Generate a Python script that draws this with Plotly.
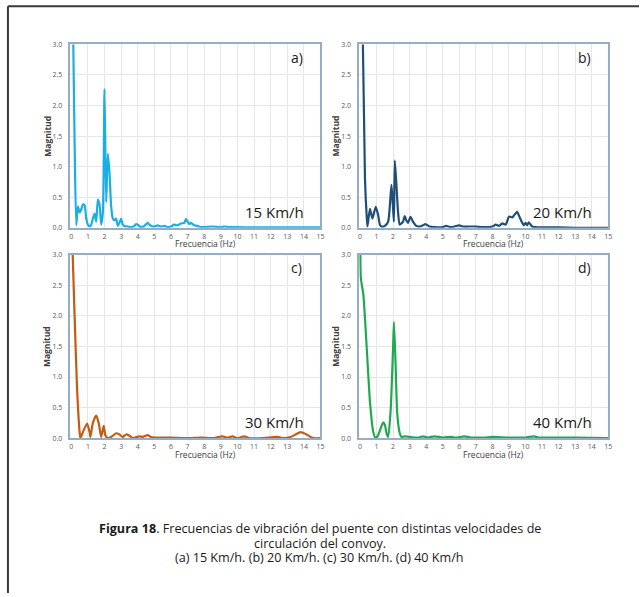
import plotly.graph_objects as go

# ---- data ----
freq_a = [0.1, 0.2, 0.3, 0.4, 0.5, 0.6, 0.7, 0.8, 0.9, 1.0, 1.1, 1.2, 1.3, 1.4, 1.5, 1.6, 1.7, 1.8, 1.9, 2.0,
          2.1, 2.2, 2.3, 2.4, 2.5, 2.6, 2.7, 2.8, 2.9, 3.0, 3.1, 3.2, 3.4, 3.6, 3.8, 3.9, 4.0, 4.2, 4.4, 4.6,
          4.7, 4.9, 5.0, 5.2, 5.4, 5.6, 5.8, 6.0, 6.2, 6.4, 6.6, 6.8, 6.9, 7.0, 7.1, 7.2, 7.4, 7.6, 7.8, 8.0,
          8.5, 9.0, 9.2, 9.5, 10.0, 11.0, 12.0, 13.0, 14.0, 15.0]
mag_a = [3.4, 1.4, 0.04, 0.35, 0.25, 0.3, 0.38, 0.37, 0.15, 0.05, 0.02, 0.05, 0.15, 0.23, 0.1, 0.46, 0.38, 0.05, 0.25, 2.27,
         0.42, 1.21, 0.9, 0.35, 0.15, 0.12, 0.15, 0.03, 0.08, 0.15, 0.05, 0.03, 0.02, 0.01, 0.03, 0.06, 0.05, 0.01, 0.03, 0.08,
         0.05, 0.02, 0.02, 0.04, 0.02, 0.03, 0.01, 0.02, 0.05, 0.04, 0.07, 0.08, 0.14, 0.1, 0.06, 0.08, 0.04, 0.03, 0.01, 0.01,
         0.02, 0.01, 0.02, 0.01, 0.01, 0.005, 0.005, 0.005, 0.005, 0.005]

freq_b = [0.15, 0.3, 0.4, 0.45, 0.6, 0.75, 0.95, 1.1, 1.2, 1.3, 1.5, 1.7, 1.9, 2.0, 2.05, 2.1, 2.2, 2.3, 2.4, 2.6,
          2.7, 2.8, 2.9, 3.05, 3.2, 3.4, 3.6, 3.8, 3.95, 4.2, 4.5, 5.0, 5.2, 5.5, 6.0, 6.2, 6.6, 7.0, 7.4, 8.0,
          8.2, 8.4, 8.6, 8.8, 9.0, 9.2, 9.3, 9.5, 9.6, 9.8, 9.9, 10.0, 10.1, 10.2, 10.4, 10.6, 11.0, 12.0, 13.0, 15.0]
mag_b = [3.4, 0.8, 0.2, 0.02, 0.31, 0.15, 0.34, 0.2, 0.05, 0.02, 0.03, 0.1, 0.7, 0.3, 0.1, 1.1, 0.7, 0.25, 0.05, 0.1,
         0.19, 0.12, 0.08, 0.18, 0.1, 0.03, 0.02, 0.04, 0.06, 0.02, 0.01, 0.01, 0.03, 0.01, 0.04, 0.02, 0.02, 0.02, 0.01, 0.02,
         0.05, 0.03, 0.07, 0.05, 0.18, 0.17, 0.2, 0.26, 0.2, 0.08, 0.04, 0.08, 0.04, 0.09, 0.02, 0.01, 0.005, 0.005, 0.0, 0.0]

freq_c = [0.05, 0.2, 0.35, 0.5, 0.55, 0.7, 0.95, 1.1, 1.15, 1.3, 1.5, 1.65, 1.8, 1.95, 2.05, 2.2, 2.4, 2.7, 2.9, 3.1,
          3.3, 3.5, 3.7, 4.1, 4.3, 4.6, 4.8, 5.2, 6.0, 7.0, 7.8, 8.5, 9.1, 9.4, 9.7, 10.0, 10.4, 10.7, 11.5, 12.4,
          12.8, 13.2, 13.5, 13.8, 14.1, 14.4, 14.6, 15.0]
mag_c = [3.3, 2.0, 0.8, 0.1, 0.0, 0.1, 0.24, 0.1, 0.02, 0.25, 0.37, 0.25, 0.02, 0.2, 0.05, 0.0, 0.02, 0.08, 0.06, 0.02,
         0.06, 0.04, 0.0, 0.03, 0.02, 0.05, 0.02, 0.01, 0.01, 0.0, 0.01, 0.0, 0.03, 0.01, 0.03, 0.0, 0.03, 0.0, 0.0, 0.02,
         0.0, 0.02, 0.06, 0.1, 0.07, 0.02, 0.0, 0.0]

freq_d = [0.02, 0.05, 0.2, 0.4, 0.6, 0.8, 0.95, 1.1, 1.3, 1.4, 1.5, 1.6, 1.7, 1.85, 2.0, 2.05, 2.15, 2.25, 2.4, 2.5,
          2.7, 3.0, 3.5, 3.8, 4.1, 4.5, 5.0, 5.5, 5.8, 6.3, 6.7, 7.5, 8.0, 9.0, 10.0, 10.5, 10.8, 12.0, 13.0, 15.0]
mag_d = [3.2, 2.62, 2.35, 1.5, 0.6, 0.1, 0.0, 0.05, 0.2, 0.26, 0.22, 0.08, 0.02, 0.45, 1.5, 1.9, 1.2, 0.4, 0.08, 0.02,
         0.03, 0.02, 0.01, 0.03, 0.01, 0.03, 0.01, 0.02, 0.01, 0.03, 0.01, 0.01, 0.02, 0.01, 0.01, 0.03, 0.01, 0.01, 0.01, 0.0]

panel_tags = ["a)", "b)", "c)", "d)"]
speed_labels = ["15 Km/h", "20 Km/h", "30 Km/h", "40 Km/h"]
colors = ["#1aaee6", "#1f4e79", "#c55a11", "#1faa50"]
x_ticks = list(range(0, 16))
y_ticks = [0.0, 0.5, 1.0, 1.5, 2.0, 2.5, 3.0]

W, H = 643, 597
FONT = "Open Sans"


def Y(y):
    """Reference pixel row -> figure pixel row (compensates vertical fit of the page)."""
    return (y - 4.7) / 0.983


series = [(freq_a, mag_a), (freq_b, mag_b), (freq_c, mag_c), (freq_d, mag_d)]
# plot area boxes in pixels: (left, right, top, bottom)
boxes = [(70, 322, 44, 227), (361, 612, 44, 227), (70, 322, 254, 437), (361, 612, 254, 437)]

fig = go.Figure()
layout = dict(
    width=W, height=H, margin=dict(l=0, r=0, t=0, b=0),
    paper_bgcolor="white", plot_bgcolor="white", showlegend=False,
    font=dict(family=FONT, color="#404040"),
)
annotations = []
shapes = []

for i, ((fx, fy), (l, r, t, b)) in enumerate(zip(series, boxes)):
    n = "" if i == 0 else str(i + 1)
    fig.add_trace(go.Scatter(
        x=fx, y=fy, mode="lines", xaxis="x" + n, yaxis="y" + n,
        line=dict(color=colors[i], width=2.2, shape="spline", smoothing=0.6),
        hoverinfo="skip",
    ))
    axis_common = dict(
        showline=True, mirror=True, linecolor="#97adc4", linewidth=1.6,
        showgrid=True, gridcolor="#e6e6e6", gridwidth=1, zeroline=False,
        ticks="", tickfont=dict(size=7, color="#595959", family=FONT),
    )
    layout["xaxis" + n] = dict(
        axis_common, domain=[l / W, r / W], anchor="y" + n, range=[-0.05, 15.0],
        tickvals=x_ticks, ticktext=[str(v) for v in x_ticks], ticklabelstandoff=1,
    )
    layout["yaxis" + n] = dict(
        axis_common, domain=[1 - Y(b) / H, 1 - Y(t) / H], anchor="x" + n, range=[0, 3.0],
        tickvals=y_ticks, tickformat=".1f", ticklabelstandoff=5,
    )
    cx = (l + r) / 2
    # axis titles
    annotations.append(dict(
        text="Frecuencia (Hz)", xref="paper", yref="paper",
        x=(cx + 10) / W, y=1 - Y(b + 16) / H, showarrow=False,
        font=dict(size=8.5, color="#404040", family=FONT), xanchor="center", yanchor="middle",
    ))
    annotations.append(dict(
        text="<b>Magnitud</b>", xref="paper", yref="paper", textangle=-90,
        x=(l - 24) / W, y=1 - Y((t + b) / 2) / H, showarrow=False,
        font=dict(size=8.5, color="#404040", family=FONT), xanchor="center", yanchor="middle",
    ))
    # panel tag and speed
    annotations.append(dict(
        text=panel_tags[i], xref="paper", yref="paper",
        x=(r - 24) / W, y=1 - Y(t + 13) / H, showarrow=False,
        font=dict(size=14, color="#1a1a1a", family=FONT), xanchor="center", yanchor="middle",
    ))
    annotations.append(dict(
        text=speed_labels[i], xref="paper", yref="paper",
        x=(r - 46) / W, y=1 - Y(b - 16) / H, showarrow=False,
        font=dict(size=15, color="#1a1a1a", family=FONT), xanchor="center", yanchor="middle",
    ))

caption_lines = [
    "<b>Figura 18</b>. Frecuencias de vibración del puente con distintas velocidades de",
    "circulación del convoy.",
    "(a) 15 Km/h. (b) 20 Km/h. (c) 30 Km/h. (d) 40 Km/h",
]
for txt, yy in zip(caption_lines, [527, 542, 556]):
    annotations.append(dict(
        text=txt, xref="paper", yref="paper", x=321 / W, y=1 - Y(yy) / H, showarrow=False,
        font=dict(size=12.6, color="#1a1a1a", family=FONT), xanchor="center", yanchor="middle",
    ))

# outer frame (left and top edges)
ty = max(Y(5.5), 1.2)
shapes.append(dict(type="line", xref="paper", yref="paper", x0=7 / W, x1=1.0, y0=1 - ty / H, y1=1 - ty / H,
                   line=dict(color="#3a3a3a", width=2)))
shapes.append(dict(type="line", xref="paper", yref="paper", x0=7 / W, x1=7 / W, y0=0, y1=1 - ty / H,
                   line=dict(color="#3a3a3a", width=2)))

layout["annotations"] = annotations
layout["shapes"] = shapes
fig.update_layout(**layout)
fig.write_html(
    "out.html",
    config={"displayModeBar": False},
    post_script=(
        "document.documentElement.style.overflow='hidden';"
        "document.body.style.margin='0';document.body.style.padding='0';document.body.style.overflow='hidden';"
    ),
)
